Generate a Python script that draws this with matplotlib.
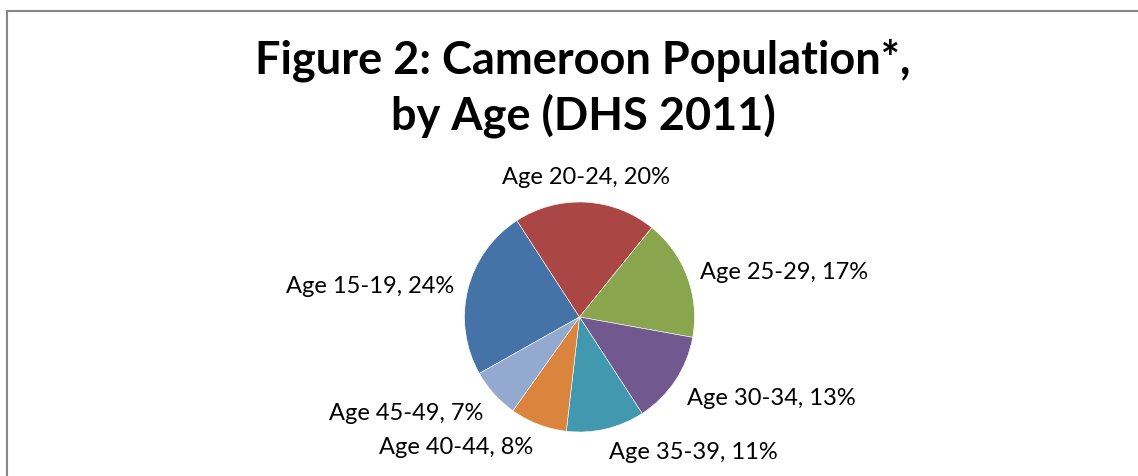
import numpy as np
import matplotlib.pyplot as plt
from matplotlib.patches import Rectangle

age_groups = ['Age 15-19', 'Age 20-24', 'Age 25-29', 'Age 30-34',
              'Age 35-39', 'Age 40-44', 'Age 45-49']
shares = [24, 20, 17, 13, 11, 8, 7]
colors = ['#4572A7', '#AA4643', '#89A54E', '#71588F',
          '#4198AF', '#DB843D', '#93A9CF']

W, H = 1138, 476
cx, cy, rad = 579.5, 317, 115.0

fig = plt.figure(figsize=(W / 100, H / 100), dpi=100)
ax = fig.add_axes([0, 0, 1, 1])

labels = ['%s, %d%%' % (a, s) for a, s in zip(age_groups, shares)]
wedges, texts = ax.pie(shares, colors=colors, startangle=209.4,
                       counterclock=False, labels=labels, labeldistance=1.1,
                       wedgeprops=dict(edgecolor='white', linewidth=0.4),
                       textprops=dict(fontsize=17, family='Lato'))

# place labels like Excel's outside-end labels
for w, t in zip(wedges, texts):
  ang = np.deg2rad((w.theta1 + w.theta2) / 2)
  x, y = np.cos(ang), np.sin(ang)
  d = 1.12
  if abs(x) < 0.1:
    ha = 'center'
  elif x > 0:
    ha = 'left'
  else:
    ha = 'right'
  if y > 0.9:
    va = 'bottom'
  elif y < -0.5:
    va = 'top'
  else:
    va = 'center'
  t.set_position((d * x, d * y))
  t.set_ha(ha)
  t.set_va(va)

ax.set_xlim(-cx / rad, (W - cx) / rad)
ax.set_ylim(-(H - cy) / rad, cy / rad)
ax.set_aspect('equal')
ax.axis('off')

fig.text(583 / W, 1 - 88 / H, 'Figure 2: Cameroon Population*,\nby Age (DHS 2011)',
         ha='center', va='center', fontsize=32.5, fontweight='bold',
         family='Lato', linespacing=1.3)

fig.patches.append(Rectangle((6.5 / W, -0.1), 1.2, 1 - 11 / H + 0.1,
                             transform=fig.transFigure, fill=False,
                             edgecolor='#868686', linewidth=1.5))

fig.savefig('out.png', dpi=100)
